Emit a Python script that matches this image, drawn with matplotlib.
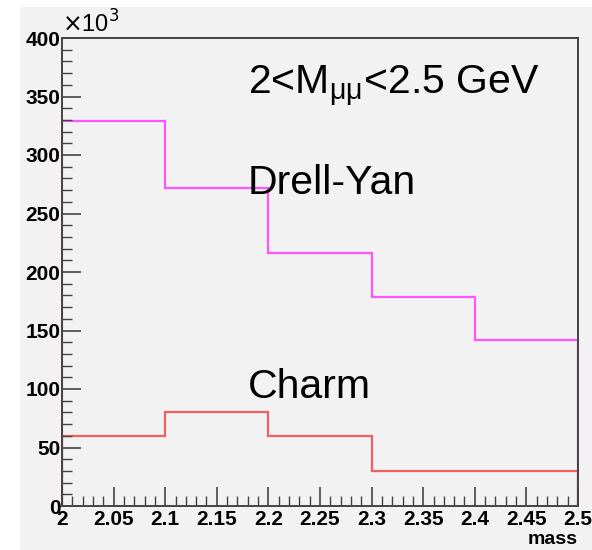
import matplotlib.pyplot as plt
from matplotlib.patches import Rectangle
from matplotlib.ticker import MultipleLocator, FuncFormatter

# bin edges (GeV) and contents (in units of 10^3)
bin_edges = [2.0, 2.1, 2.2, 2.3, 2.4, 2.5]
drell_yan = [329, 272, 216, 179, 142]
charm = [60, 80, 60, 30, 30]

W, H = 592, 550
fig = plt.figure(figsize=(W / 100, H / 100), dpi=100, facecolor="white")
# ROOT canvas grey
fig.patches.append(Rectangle((20 / W, 0), 1 - 20 / W, 1 - 7 / H,
                             transform=fig.transFigure, facecolor="#f2f2f2",
                             edgecolor="none", zorder=-10))

ax = fig.add_axes([62 / W, 1 - 506 / H, (578 - 62) / W, (506 - 38) / H])
ax.set_facecolor("#f2f2f2")

ax.stairs(drell_yan, bin_edges, color="#ff55ff", lw=1.6)
ax.stairs(charm, bin_edges, color="#f06060", lw=1.6)

ax.set_xlim(2.0, 2.5)
ax.set_ylim(0, 400)

ax.xaxis.set_major_locator(MultipleLocator(0.05))
ax.xaxis.set_minor_locator(MultipleLocator(0.01))
ax.yaxis.set_major_locator(MultipleLocator(50))
ax.yaxis.set_minor_locator(MultipleLocator(10))
ax.xaxis.set_major_formatter(FuncFormatter(lambda v, p: f"{v:g}"))

ax.tick_params(which="major", direction="in", length=14, width=1.2, color="#444444",
               top=False, right=False)
ax.tick_params(which="minor", direction="in", length=7, width=1.0, color="#444444",
               top=False, right=False)
ax.tick_params(axis="x", pad=3)
ax.tick_params(axis="y", pad=1)
for lab in ax.get_xticklabels() + ax.get_yticklabels():
    lab.set_fontfamily("Liberation Sans")
    lab.set_fontweight("bold")
    lab.set_fontsize(15)

for s in ax.spines.values():
    s.set_color("#444444")
    s.set_linewidth(1.4)

ax.text(0, 1.0, r"$\times$10$^{3}$", transform=ax.transAxes, fontsize=17,
        family="Liberation Sans", ha="left", va="bottom")
ax.text(1.0, -0.053, "mass", transform=ax.transAxes, fontsize=14,
        family="Liberation Sans", fontweight="bold", ha="right", va="top")

txt = dict(fontsize=29.5, family="Liberation Sans", ha="left", va="baseline")
ax.text(2.18, 353, r"2<M$_{\mathregular{μμ}}$<2.5 GeV", **txt)
ax.text(2.18, 267, "Drell-Yan", **txt)
ax.text(2.18, 92, "Charm", **txt)

fig.savefig("out.png", dpi=100, facecolor=fig.get_facecolor())
